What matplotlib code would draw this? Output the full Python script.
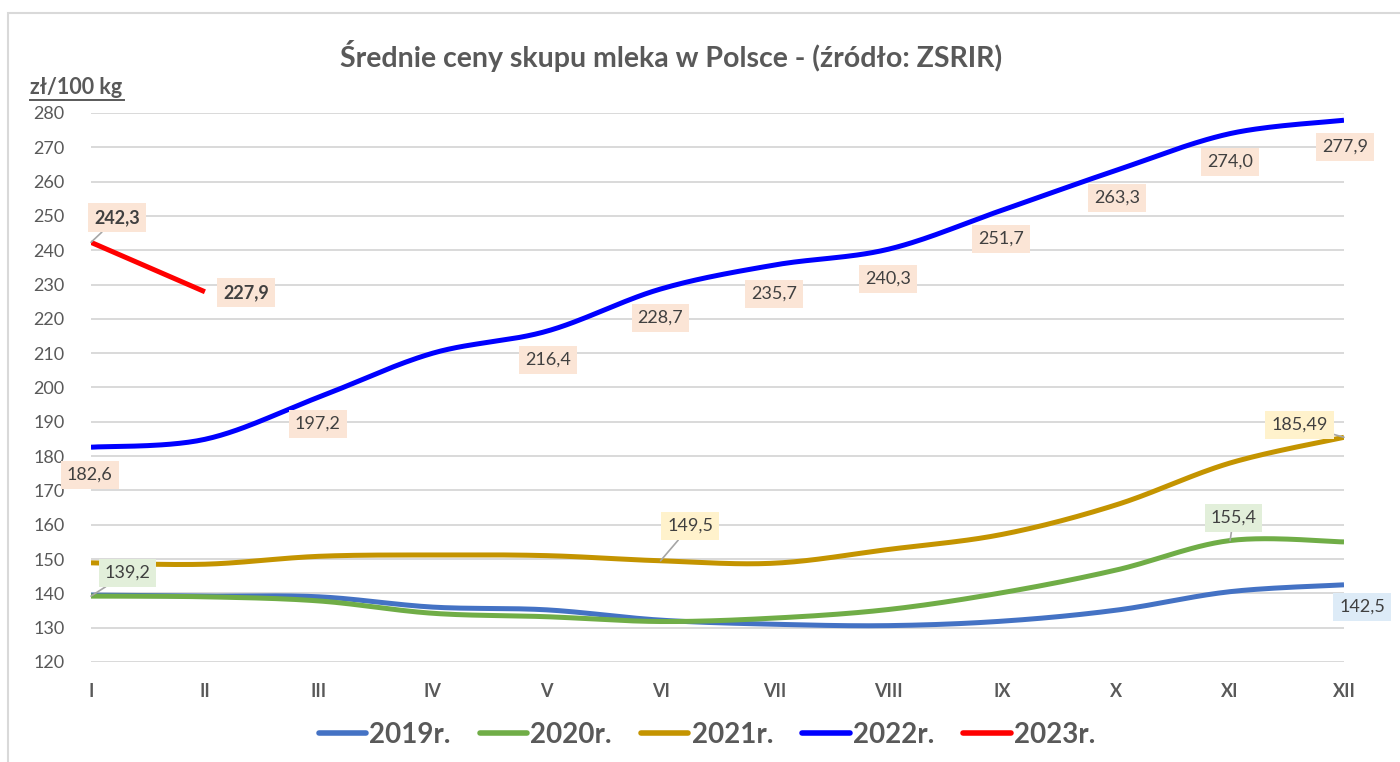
import numpy as np
import matplotlib
matplotlib.use("Agg")
import matplotlib.pyplot as plt
from matplotlib.patches import Rectangle
from matplotlib.lines import Line2D

months = ["I", "II", "III", "IV", "V", "VI", "VII", "VIII", "IX", "X", "XI", "XII"]
v2019 = [139.5, 139.2, 139.0, 136.0, 135.2, 132.2, 131.0, 130.6, 131.9, 135.1, 140.5, 142.5]
v2020 = [139.2, 139.0, 137.8, 134.2, 133.2, 131.8, 132.8, 135.3, 140.2, 146.8, 155.4, 155.0]
v2021 = [148.9, 148.5, 150.8, 151.2, 151.0, 149.5, 148.8, 152.8, 157.2, 165.8, 178.0, 185.49]
v2022 = [182.6, 184.9, 197.2, 210.0, 216.4, 228.7, 235.7, 240.3, 251.7, 263.3, 274.0, 277.9]
v2023 = [242.3, 227.9]
series_names = ["2019r.", "2020r.", "2021r.", "2022r.", "2023r."]
colors = ["#4472C4", "#70AD47", "#C49400", "#0000FF", "#FF0000"]
yticks = list(range(120, 281, 10))

FONT = ["Lato", "DejaVu Sans"]
plt.rcParams["font.family"] = FONT
GRAY = "#595959"
TXT = "#404040"

def smooth(xs, ys, n=30):
    xs = np.asarray(xs, float); ys = np.asarray(ys, float)
    P = np.column_stack([xs, ys])
    if len(P) < 3:
        return xs, ys
    ext = np.vstack([P[0], P, P[-1]])
    out = []
    for i in range(len(P) - 1):
        p0, p1, p2, p3 = ext[i], ext[i + 1], ext[i + 2], ext[i + 3]
        c1 = p1 + (p2 - p0) / 6.0
        c2 = p2 - (p3 - p1) / 6.0
        t = np.linspace(0, 1, n)[:, None]
        b = (1 - t) ** 3 * p1 + 3 * (1 - t) ** 2 * t * c1 + 3 * (1 - t) * t ** 2 * c2 + t ** 3 * p2
        out.append(b if i == 0 else b[1:])
    out = np.vstack(out)
    return out[:, 0], out[:, 1]

fig = plt.figure(figsize=(14, 7.62), dpi=100)
fig.patches.append(Rectangle((8 / 1400, -0.5), 2, 0.5 + 1 - 13 / 762, transform=fig.transFigure,
                             fill=False, edgecolor="#D9D9D9", lw=1.5))
ax = fig.add_axes([91 / 1400, 1 - 662 / 762, (1344 - 91) / 1400, (662 - 113) / 762])
ax.set_xlim(0, 11)
ax.set_ylim(120, 280)
ax.set_yticks(yticks)
ax.set_xticks(range(12))
ax.set_xticklabels(months)
for s in ax.spines.values():
    s.set_visible(False)
ax.grid(axis="y", color="#D9D9D9", lw=1.4)
ax.set_axisbelow(True)
ax.tick_params(length=0)
ax.tick_params(axis="y", pad=19, labelsize=13, labelcolor=GRAY)
ax.tick_params(axis="x", pad=15, labelsize=13, labelcolor=GRAY)
for lab in ax.get_xticklabels():
    lab.set_fontweight("bold")

data = [v2019, v2020, v2021, v2022, v2023]
for vals, c in zip(data, colors):
    x = np.arange(len(vals))
    sx, sy = smooth(x, vals)
    ax.plot(sx, sy, color=c, lw=3.6, solid_capstyle="butt", zorder=3)

def label(txt, xy_text, fc, xy_point=None, bold=False):
    kw = dict(ha="center", va="center", fontsize=13, color=TXT,
              fontweight="bold" if bold else "normal",
              bbox=dict(boxstyle="square,pad=0.33", fc=fc, ec="none"),
              annotation_clip=False, zorder=5)
    if xy_point is not None:
        ax.annotate(txt, xy=xy_point, xytext=xy_text, textcoords="data",
                    arrowprops=dict(arrowstyle="-", color="#A6A6A6", lw=1.2, shrinkA=0, shrinkB=0), **kw)
    else:
        ax.annotate(txt, xy=xy_text, **kw)

PEACH = "#FBE5D6"
label("182,6", (-0.01, 174.5), PEACH)
label("197,2", (1.99, 189.4), PEACH)
label("216,4", (4.01, 208.0), PEACH)
label("228,7", (5.0, 220.3), PEACH)
label("235,7", (6.0, 227.3), PEACH)
label("240,3", (7.0, 231.7), PEACH)
label("251,7", (7.99, 243.3), PEACH)
label("263,3", (9.01, 255.3), PEACH)
label("274,0", (10.0, 265.8), PEACH)
label("277,9", (11.01, 270.2), PEACH)
label("242,3", (0.23, 249.5), PEACH, xy_point=(0, 242.3), bold=True)
label("227,9", (1.36, 227.6), PEACH, bold=True)
label("149,5", (5.26, 159.6), "#FFF2CC", xy_point=(5, 149.5))
label("185,49", (10.61, 189.1), "#FFF2CC", xy_point=(11, 185.49))
label("155,4", (10.03, 162.0), "#E2EFDA", xy_point=(10, 155.4))
label("139,2", (0.32, 146.0), "#E2EFDA", xy_point=(0, 139.2))
label("142,5", (11.16, 136.0), "#DDEBF7")

fig.text(671 / 1400, 1 - 56 / 762, "Średnie ceny skupu mleka w Polsce - (źródło: ZSRIR)",
         ha="center", va="center", fontsize=20.5, fontweight="bold", color=GRAY)
fig.text(30 / 1400, 1 - 88 / 762, "zł/100 kg", ha="left", va="center",
         fontsize=15.5, fontweight="bold", color=GRAY)
fig.add_artist(Line2D([30 / 1400, 124 / 1400], [1 - 100 / 762, 1 - 100 / 762],
                      transform=fig.transFigure, color=GRAY, lw=1.4))

handles = [Line2D([], [], color=c, lw=4, solid_capstyle="round") for c in colors]
leg = fig.legend(handles, series_names, loc="center", bbox_to_anchor=(0.505, 1 - 735 / 762),
                 ncol=5, frameon=False, handlelength=1.7, handletextpad=0.12, columnspacing=1.05,
                 prop=dict(family=["Lato", "DejaVu Sans"], weight="bold", size=20))
for tx in leg.get_texts():
    tx.set_color(GRAY)

fig.savefig("out.png", dpi=100, facecolor="white")
